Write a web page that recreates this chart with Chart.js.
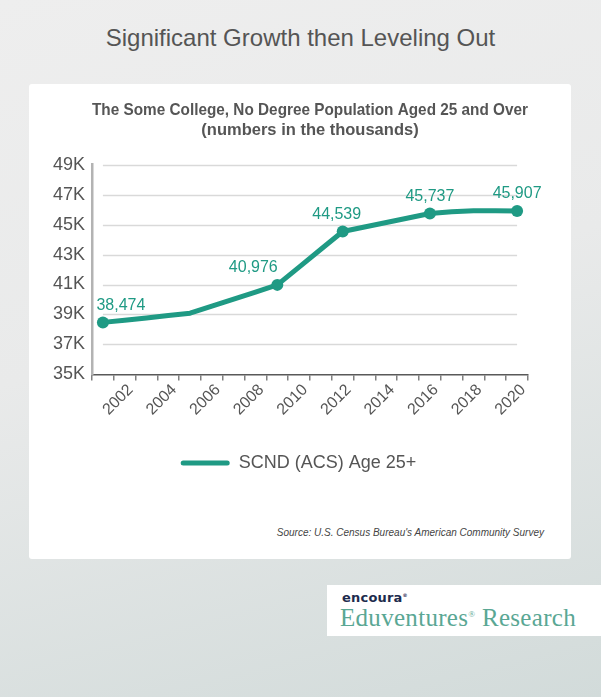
<!DOCTYPE html>
<html>
<head>
<meta charset="utf-8">
<script src="https://cdn.jsdelivr.net/npm/chart.js@4/dist/chart.umd.min.js"></script>
<style>
  html, body { margin: 0; padding: 0; }
  body {
    width: 601px; height: 697px; overflow: hidden; position: relative;
    font-family: "Liberation Sans", Arial, sans-serif;
    background: linear-gradient(165deg, #eeeeee 0%, #e9eaea 45%, #d2dbda 100%);
  }
  .page-title {
    position: absolute; left: 0; width: 601px; top: 24px;
    text-align: center; font-size: 24px; line-height: 28px; color: #555;
  }
  .card {
    position: absolute; left: 29px; top: 84px; width: 542px; height: 475px;
    background: #fff; border-radius: 3px;
  }
  .chart-wrap { position: absolute; left: 0; top: 0; width: 542px; height: 398px; }
  .source {
    position: absolute; right: 27px; top: 443px;
    font-size: 10px; font-style: italic; color: #444;
  }
  .logo {
    position: absolute; left: 327px; top: 585px; width: 274px; height: 51px; background: #fff;
  }
  .logo .brand {
    position: absolute; left: 15px; top: 5px; font-size: 13px; font-weight: 800;
    color: #1d2b4d; font-family: "DejaVu Sans", sans-serif; letter-spacing: 0.2px;
  }
  .logo .brand sup { font-size: 5px; }
  .logo .name {
    position: absolute; left: 13px; top: 19px; font-size: 25px; color: #5aa794;
    font-family: "Liberation Serif", serif; letter-spacing: 0.3px;
  }
  .logo .name sup { font-size: 9px; }
</style>
</head>
<body>
<div class="page-title">Significant Growth then Leveling Out</div>
<div class="card">
  <div class="chart-wrap"><canvas id="chart" width="542" height="398"></canvas></div>
  <div class="source">Source: U.S. Census Bureau's American Community Survey</div>
</div>
<div class="logo">
  <div class="brand">encoura<sup>®</sup></div>
  <div class="name">Eduventures<sup>®</sup> Research</div>
</div>
<script>
// ACS "some college, no degree" population 25+, in thousands (x1000 here)
const YEARS = [2001, 2002, 2003, 2004, 2005, 2006, 2007, 2008, 2009, 2010,
               2011, 2012, 2013, 2014, 2015, 2016, 2017, 2018, 2019, 2020];
const SCND = [38474, 38620, 38770, 38930, 39090, 39560, 40030, 40500, 40976, 42160,
              43350, 44539, 44840, 45140, 45440, 45737, 45860, 45920, 45920, 45907];
const LABELED_YEARS = [2001, 2009, 2012, 2016, 2020];
const Y_MIN = 35000, Y_MAX = 49000, Y_STEP = 2000;

const TEAL = '#1f9a84';
const TEXT = '#555555';
const FONT = '"Liberation Sans", Arial, sans-serif';

// horizontal grid lines only between first and last category centre
const gridPlugin = {
  id: 'innerGrid',
  beforeDatasetsDraw(chart) {
    const { ctx, scales: { x, y } } = chart;
    const x0 = x.getPixelForValue(0);
    const x1 = x.getPixelForValue(YEARS.length - 1);
    ctx.save();
    ctx.strokeStyle = '#d9d9d9';
    ctx.lineWidth = 1.5;
    y.ticks.forEach((t) => {
      if (t.value === Y_MIN) return;
      const py = Math.round(y.getPixelForValue(t.value)) + 0.5;
      ctx.beginPath();
      ctx.moveTo(x0, py);
      ctx.lineTo(x1, py);
      ctx.stroke();
    });
    ctx.restore();
  },
};

// value labels above the marked points
const LABEL_NUDGE = { 2001: 18, 2009: -24, 2012: -6 };
const valueLabels = {
  id: 'valueLabels',
  afterDatasetsDraw(chart) {
    const { ctx } = chart;
    const meta = chart.getDatasetMeta(0);
    ctx.save();
    ctx.font = '16px ' + FONT;
    ctx.fillStyle = TEAL;
    ctx.textAlign = 'center';
    ctx.textBaseline = 'middle';
    meta.data.forEach((pt, i) => {
      const yr = YEARS[i];
      if (!LABELED_YEARS.includes(yr)) return;
      const dx = LABEL_NUDGE[yr] || 0;
      ctx.fillText(SCND[i].toLocaleString('en-US'), pt.x + dx, pt.y - 17);
    });
    ctx.restore();
  },
};

const radii = YEARS.map(yr => (LABELED_YEARS.includes(yr) ? 6 : 0));

new Chart(document.getElementById('chart').getContext('2d'), {
  type: 'line',
  data: {
    labels: YEARS.map(String),
    datasets: [{
      label: 'SCND (ACS) Age 25+',
      data: SCND,
      borderColor: TEAL,
      backgroundColor: TEAL,
      borderWidth: 5,
      borderCapStyle: 'round',
      borderJoinStyle: 'round',
      tension: 0,
      pointRadius: radii,
      pointHoverRadius: radii,
      pointBackgroundColor: TEAL,
      pointBorderWidth: 0,
    }],
  },
  options: {
    responsive: false,
    animation: false,
    layout: { padding: { left: 23, right: 26, top: 0, bottom: 0 } },
    scales: {
      x: {
        type: 'category',
        offset: true,
        grid: {
          offset: true,
          drawOnChartArea: false,
          drawTicks: true,
          tickLength: 6,
          color: '#808080',
          lineWidth: 1.5,
        },
        border: { display: true, color: '#595959', width: 1.5 },
        ticks: {
          autoSkip: false,
          minRotation: 45,
          maxRotation: 45,
          padding: 0,
          labelOffset: 6,
          color: TEXT,
          font: { family: FONT, size: 16 },
          callback(val, i) {
            return YEARS[i] % 2 === 0 ? String(YEARS[i]) : '';
          },
        },
      },
      y: {
        min: Y_MIN,
        max: Y_MAX,
        afterFit(scale) { scale.width = 40; },
        grid: { display: false, drawTicks: false },
        border: { display: true, color: '#b3b3b3', width: 2.5 },
        ticks: {
          stepSize: Y_STEP,
          padding: 7,
          color: TEXT,
          font: { family: FONT, size: 18 },
          callback: v => (v / 1000) + 'K',
        },
      },
      // empty right-hand spacer so the plot sits where the original does
      spacer: {
        type: 'linear',
        position: 'right',
        display: true,
        afterFit(scale) { scale.width = 17; },
        grid: { display: false, drawTicks: false },
        border: { display: false },
        ticks: { display: false },
      },
    },
    plugins: {
      title: {
        display: true,
        fullSize: false,
        text: ['The Some College, No Degree Population Aged 25 and Over',
               '(numbers in the thousands)'],
        color: TEXT,
        font: { family: FONT, size: 16.5, weight: 'bold', lineHeight: 1.17 },
        padding: { top: 17, bottom: 25 },
      },
      legend: {
        position: 'bottom',
        title: { display: true, text: '', padding: { top: 20, bottom: 0 }, font: { size: 4 } },
        labels: {
          boxWidth: 49,
          boxHeight: 5,
          padding: 10,
          color: TEXT,
          font: { family: FONT, size: 18 },
          generateLabels(chart) {
            return Chart.defaults.plugins.legend.labels.generateLabels(chart).map(l => ({
              ...l, lineWidth: 0, fillStyle: TEAL, borderRadius: 2.5,
            }));
          },
        },
      },
      tooltip: { enabled: false },
    },
  },
  plugins: [gridPlugin, valueLabels],
});
</script>
</body>
</html>
